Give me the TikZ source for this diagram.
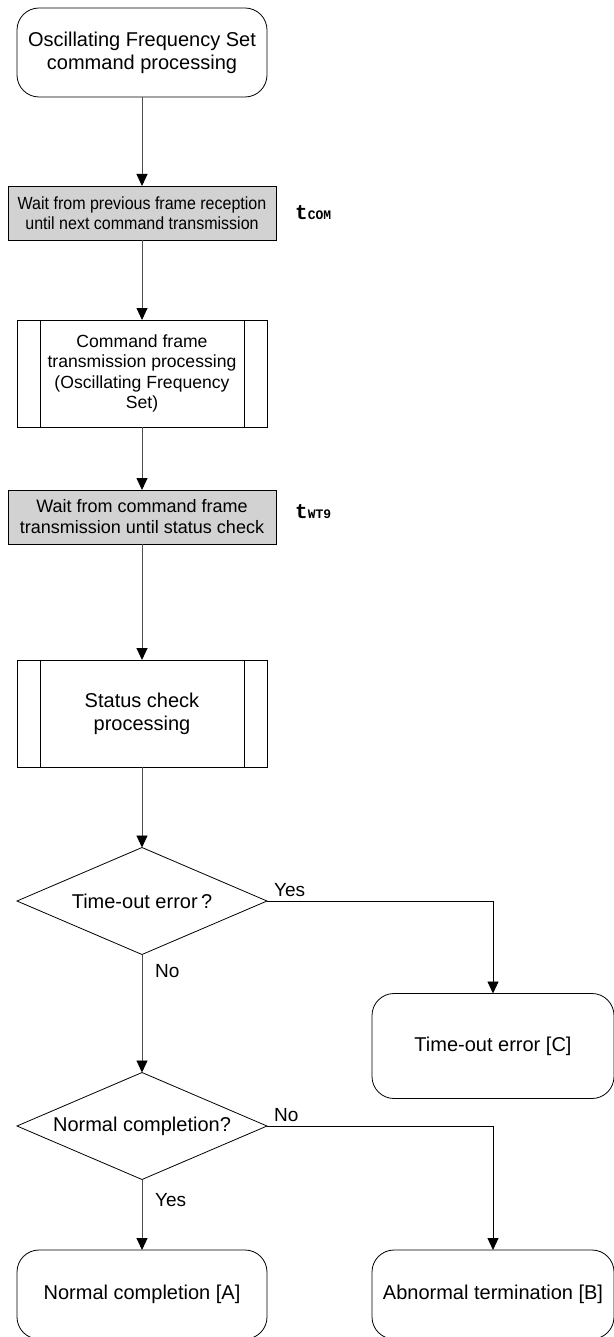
\documentclass[tikz,border=0pt]{standalone}
\usepackage{fontspec}
\setmainfont{Liberation Sans}
\newfontfamily\narrowsans[FakeStretch=0.91]{Liberation Sans}
\newfontfamily\codefont{Liberation Mono}
\usetikzlibrary{arrows.meta,shapes.geometric,calc}
\definecolor{WaitGray}{HTML}{D2D2D2}
\definecolor{FlowLine}{HTML}{4D4D4D}
\newcommand{\timesym}[1]{{\codefont\bfseries\fontsize{21}{21}\selectfont t}{\codefont\bfseries\fontsize{13}{13}\selectfont #1}}
\tikzset{
  flowarrow/.style={-{Triangle[length=12pt,width=11pt,color=black]}, line width=0.9pt, draw=FlowLine},
  brancharrow/.style={-{Triangle[length=12pt,width=11pt]}, line width=0.9pt, draw=black},
  termnode/.style={rectangle, rounded corners=22pt, draw, line width=0.8pt, align=center, minimum width=250pt, minimum height=89pt, inner sep=0pt, outer sep=0pt, font=\fontsize{20}{23}\selectfont},
  waitnode/.style={rectangle, draw, fill=WaitGray, line width=0.8pt, align=center, minimum width=268pt, minimum height=54pt, inner sep=0pt, outer sep=0pt, font=\fontsize{18}{21}\selectfont},
  subnode/.style={rectangle, draw, line width=0.8pt, align=center, minimum width=250pt, minimum height=107pt, inner sep=0pt, outer sep=0pt, font=\fontsize{17.6}{20.5}\selectfont},
  decnode/.style={diamond, draw, aspect=2.3, line width=0.8pt, align=center, minimum width=250pt, minimum height=107pt, inner sep=0pt, outer sep=0pt, font=\fontsize{20}{23}\selectfont},
  answer/.style={inner sep=0pt, font=\fontsize{19}{21}\selectfont},
  timelabel/.style={inner sep=0pt, anchor=west},
}
\begin{document}
\begin{tikzpicture}[x=1pt,y=-1pt]
\path[use as bounding box] (0,0) rectangle (613,1337);

\node[termnode] (start) at (142,52.5) {Oscillating Frequency Set\\command processing};
\node[waitnode,font=\narrowsans\fontsize{17.6}{20.5}\selectfont] (wait1) at (142,213) {Wait from previous frame reception\\until next command transmission};
\node[timelabel] (tcom) at (295,213) {\timesym{COM}};
\node[subnode] (sendcmd) at (142,373.5) {Command frame\\transmission processing\\(Oscillating Frequency\\Set)};
\node[waitnode] (wait2) at (142,517) {Wait from command frame\\transmission until status check};
\node[timelabel] (twt) at (295,512) {\timesym{WT9}};
\node[subnode,font=\fontsize{20}{23}\selectfont] (stcheck) at (142,713.5) {Status check\\processing};
\node[decnode] (tmout) at (142,901) {Time-out error\,?};
\node[termnode,minimum width=242pt,minimum height=105pt] (errc) at (493,1046) {Time-out error [C]};
\node[decnode] (normal) at (142,1126) {Normal completion?};
\node[termnode] (norma) at (142,1294.5) {Normal completion [A]};
\node[termnode,minimum width=242pt] (abnb) at (493,1294.5) {Abnormal termination [B]};

% side bars of the subroutine boxes
\foreach \n in {sendcmd,stcheck}{
  \draw[line width=0.8pt] ([xshift=23pt]\n.north west) -- ([xshift=23pt]\n.south west);
  \draw[line width=0.8pt] ([xshift=-23pt]\n.north east) -- ([xshift=-23pt]\n.south east);
}

\draw[flowarrow] (start) -- (wait1);
\draw[flowarrow] (wait1) -- (sendcmd);
\draw[flowarrow] (sendcmd) -- (wait2);
\draw[flowarrow] (wait2) -- (stcheck);
\draw[flowarrow] (stcheck) -- (tmout);
\draw[flowarrow] (tmout) -- (normal);
\draw[flowarrow] (normal) -- (norma);
\draw[brancharrow] (tmout.east) -| (errc.north);
\draw[brancharrow] (normal.east) -| (abnb.north);

\node[answer,anchor=south west] (yes1) at ([xshift=7pt,yshift=4pt]tmout.east) {Yes};
\node[answer,anchor=north west] (no1) at ([xshift=13pt,yshift=-10pt]tmout.south) {No};
\node[answer,anchor=south west] (no2) at ([xshift=7pt,yshift=4pt]normal.east) {No};
\node[answer,anchor=north west] (yes2) at ([xshift=13pt,yshift=-14pt]normal.south) {Yes};
\end{tikzpicture}
\end{document}
